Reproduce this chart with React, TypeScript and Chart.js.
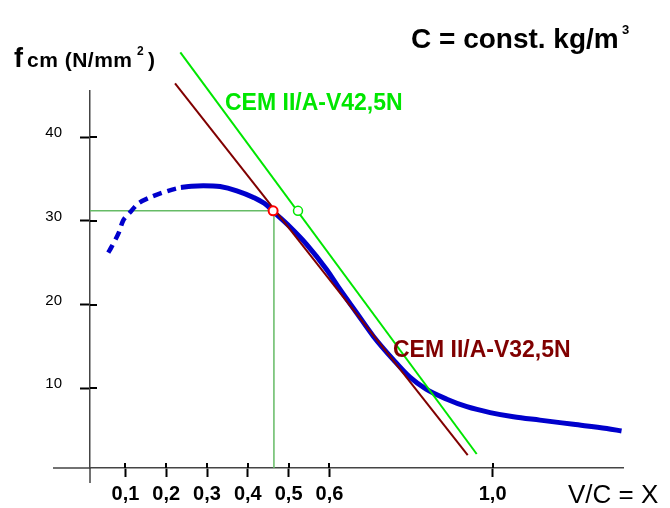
import React, { useEffect, useRef } from 'react';
import { Chart, registerables } from 'chart.js';

Chart.register(...registerables);

// ---- data ----
const CURVE_DASHED_X = [0.058, 0.066, 0.083, 0.095, 0.111, 0.132, 0.165, 0.205, 0.236];
const CURVE_DASHED_Y = [26.2, 26.9, 28.5, 30.1, 31.0, 32.1, 32.9, 33.6, 34.0];
const CURVE_SOLID_X = [0.236, 0.262, 0.291, 0.332, 0.373, 0.414, 0.446, 0.463, 0.503, 0.544, 0.593, 0.626, 0.667, 0.708, 0.757, 0.798, 0.837, 0.888, 0.937, 0.994, 1.051, 1.116, 1.198, 1.28, 1.316];
const CURVE_SOLID_Y = [34.0, 34.15, 34.2, 34.1, 33.6, 32.8, 31.9, 31.1, 29.3, 27.2, 24.2, 21.8, 19.0, 16.2, 13.4, 11.3, 9.9, 8.7, 7.8, 7.1, 6.6, 6.2, 5.7, 5.2, 4.9];
const LINE_325_X = [0.2216, 0.939];
const LINE_325_Y = [46.44, 2.03];
const LINE_425_X = [0.2346, 0.961];
const LINE_425_Y = [50.14, 2.15];
const POINT_325_X = [0.462];
const POINT_325_Y = [31.2];
const POINT_425_X = [0.523];
const POINT_425_Y = [31.2];
const GUIDE_X = [0.0132, 0.464, 0.464];
const GUIDE_Y = [31.2, 31.2, 0.48];
const X_TICKS = [0.1, 0.2, 0.3, 0.4, 0.5, 0.6, 1.0];
const X_TICK_LABELS = ['0,1', '0,2', '0,3', '0,4', '0,5', '0,6', '1,0'];
const Y_TICKS = [10, 20, 30, 40];
const Y_TICK_LABELS = ['10', '20', '30', '40'];

const X_MIN = 0.0132;
const X_MAX = 1.3196;
const Y_MIN = 0.48;
const Y_MAX = 45.52;
const X_AXIS_START = -0.0775;
const Y_AXIS_END = -1.31;

const FONT = "'Liberation Sans', Arial, sans-serif";
const BLUE = '#0000cc';
const BROWN = '#800000';
const GREEN = '#00e600';
const GUIDE = '#66bb66';
const AXIS = '#444444';

const pts = (xs: number[], ys: number[]) => xs.map((x, i) => ({ x, y: ys[i] }));

const overlay = {
  id: 'overlay',
  afterDraw(chart: any) {
    const { ctx } = chart;
    const xs = chart.scales.x;
    const ys = chart.scales.y;
    const x0 = xs.getPixelForValue(X_MIN);
    const y0 = ys.getPixelForValue(Y_MIN);
    ctx.save();
    // axis extensions
    ctx.strokeStyle = AXIS;
    ctx.lineWidth = 1.5;
    ctx.beginPath();
    ctx.moveTo(xs.getPixelForValue(X_AXIS_START), y0);
    ctx.lineTo(x0, y0);
    ctx.moveTo(x0, y0);
    ctx.lineTo(x0, ys.getPixelForValue(Y_AXIS_END));
    ctx.stroke();
    // inner halves of tick marks
    ctx.strokeStyle = '#000';
    ctx.lineWidth = 2;
    ctx.beginPath();
    X_TICKS.forEach((v) => {
      const px = Math.round(xs.getPixelForValue(v));
      ctx.moveTo(px, y0 - 5);
      ctx.lineTo(px, y0);
    });
    Y_TICKS.forEach((v) => {
      const py = Math.round(ys.getPixelForValue(v));
      ctx.moveTo(x0, py);
      ctx.lineTo(x0 + 7, py);
    });
    ctx.stroke();

    ctx.textBaseline = 'alphabetic';
    ctx.textAlign = 'left';
    // y axis title
    ctx.fillStyle = '#000';
    ctx.font = `bold 27px ${FONT}`;
    ctx.fillText('f', 14, 67);
    ctx.font = `bold 21px ${FONT}`;
    (ctx as any).letterSpacing = '0.5px';
    ctx.fillText('cm (N/mm', 27, 67);
    (ctx as any).letterSpacing = '0px';
    ctx.font = `bold 12px ${FONT}`;
    ctx.fillText('2', 137, 55);
    ctx.font = `bold 21px ${FONT}`;
    ctx.fillText(')', 148, 67);
    // top right note
    ctx.font = `bold 28px ${FONT}`;
    ctx.fillText('C = const. kg/m', 411, 48);
    ctx.font = `bold 13px ${FONT}`;
    ctx.fillText('3', 622, 34);
    // series labels
    ctx.font = `bold 23px ${FONT}`;
    ctx.fillStyle = GREEN;
    ctx.fillText('CEM II/A-V42,5N', 225, 110);
    ctx.fillStyle = BROWN;
    ctx.fillText('CEM II/A-V32,5N', 393, 357);
    // x axis title
    ctx.fillStyle = '#000';
    ctx.font = `26px ${FONT}`;
    ctx.fillText('V/C = X', 568, 503);
    ctx.restore();
  },
};

export default function App() {
  const ref = useRef<HTMLCanvasElement | null>(null);
  useEffect(() => {
    if (!ref.current) return;
    const chart = new Chart(ref.current, {
      type: 'line',
      data: {
        datasets: [
          {
            data: pts(POINT_325_X, POINT_325_Y),
            showLine: false,
            pointRadius: 4.5,
            pointBorderWidth: 2,
            pointBorderColor: '#ff0000',
            pointBackgroundColor: '#ffffff',
            clip: false,
          },
          {
            data: pts(POINT_425_X, POINT_425_Y),
            showLine: false,
            pointRadius: 4.5,
            pointBorderWidth: 1.5,
            pointBorderColor: GREEN,
            pointBackgroundColor: '#ffffff',
            clip: false,
          },
          {
            data: pts(LINE_425_X, LINE_425_Y),
            borderColor: GREEN,
            borderWidth: 2,
            pointRadius: 0,
            clip: false,
          },
          {
            data: pts(LINE_325_X, LINE_325_Y),
            borderColor: BROWN,
            borderWidth: 2,
            pointRadius: 0,
            clip: false,
          },
          {
            data: pts(CURVE_SOLID_X, CURVE_SOLID_Y),
            borderColor: BLUE,
            borderWidth: 5,
            pointRadius: 0,
            cubicInterpolationMode: 'monotone',
            clip: false,
          },
          {
            data: pts(CURVE_DASHED_X, CURVE_DASHED_Y),
            borderColor: BLUE,
            borderWidth: 4.5,
            borderDash: [9, 6],
            pointRadius: 0,
            tension: 0.3,
            clip: false,
          },
          {
            data: pts(GUIDE_X, GUIDE_Y),
            borderColor: GUIDE,
            borderWidth: 1.5,
            pointRadius: 0,
            tension: 0,
            clip: false,
          },
        ],
      },
      options: {
        animation: false,
        responsive: false,
        events: [],
        layout: { padding: { left: 38, right: 47, top: 91, bottom: 0 } },
        plugins: { legend: { display: false }, tooltip: { enabled: false } },
        scales: {
          x: {
            type: 'linear',
            position: 'bottom',
            min: X_MIN,
            max: X_MAX,
            bounds: 'data',
            afterBuildTicks: (s: any) => {
              s.ticks = X_TICKS.map((v) => ({ value: v }));
            },
            afterFit: (s: any) => {
              s.height = 40;
            },
            grid: {
              display: true,
              drawOnChartArea: false,
              drawTicks: true,
              tickLength: 9,
              tickWidth: 2,
              tickColor: '#000',
            },
            border: { display: true, color: AXIS, width: 1.5 },
            ticks: {
              autoSkip: false,
              maxRotation: 0,
              padding: 5,
              color: '#000',
              font: { family: FONT, size: 20, weight: 'bold' },
              callback: (_v: any, i: number) => X_TICK_LABELS[i],
            },
          },
          y: {
            type: 'linear',
            position: 'left',
            min: Y_MIN,
            max: Y_MAX,
            bounds: 'data',
            afterBuildTicks: (s: any) => {
              s.ticks = Y_TICKS.map((v) => ({ value: v }));
            },
            afterFit: (s: any) => {
              s.width = 52;
            },
            grid: {
              display: true,
              drawOnChartArea: false,
              drawTicks: true,
              tickLength: 10,
              tickWidth: 2,
              tickColor: '#000',
            },
            border: { display: true, color: AXIS, width: 1.5 },
            ticks: {
              autoSkip: false,
              padding: 18,
              labelOffset: -4,
              color: '#000',
              font: { family: FONT, size: 15 },
              callback: (_v: any, i: number) => Y_TICK_LABELS[i],
            },
          },
        },
      },
      plugins: [overlay],
    } as any);
    return () => chart.destroy();
  }, []);
  return (
    <div style={{ position: 'fixed', left: 0, top: 0, width: 670, height: 508, background: '#fff' }}>
      <canvas ref={ref} width={670} height={508} />
    </div>
  );
}
